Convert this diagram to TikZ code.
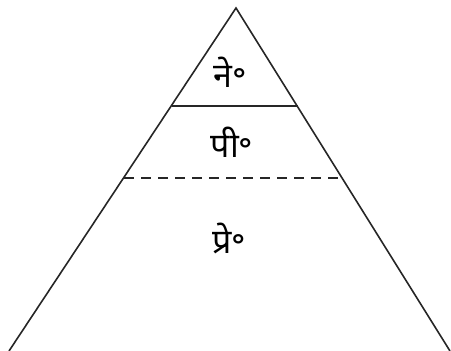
\documentclass[tikz,border=0pt]{standalone}
\usepackage{fontspec}
\newfontfamily\deva[Script=Devanagari]{Noto Sans}
\begin{document}
\begin{tikzpicture}[x=1pt,y=-1pt,
  edge/.style={line width=1.6pt,draw=black!85},
  lbl/.style={font=\deva\bfseries\fontsize{34}{40}\selectfont,inner sep=0pt}]
\useasboundingbox (0,0) rectangle (451,351);
\coordinate (apex) at (236,8);
\coordinate (bl) at (9,351);
\coordinate (br) at (450,351);
\coordinate (s1l) at (171.5,106);
\coordinate (s1r) at (297.5,106);
\coordinate (s2l) at (124,178);
\coordinate (s2r) at (343,178);
\draw[edge] (bl) -- (apex) -- (br);
\draw[line width=0.8pt,draw=black!30] (bl) -- (br);
\draw[edge] (s1l) -- (s1r);
\draw[edge,dash pattern=on 10pt off 7pt] (s2l) -- (s2r);
\node[lbl] (ne) at (230,72) {ने॰};
\node[lbl] (pi) at (232,142) {पी॰};
\node[lbl] (pre) at (229,238) {प्रे॰};
\end{tikzpicture}
\end{document}
